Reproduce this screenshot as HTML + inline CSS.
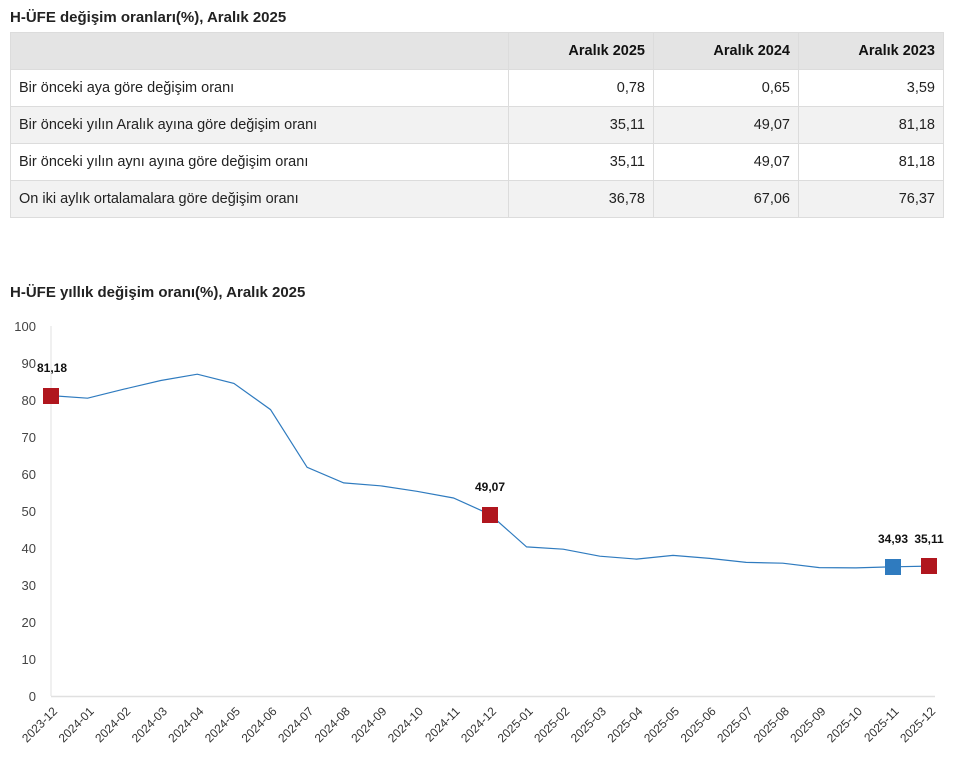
<!DOCTYPE html>
<html><head><meta charset="utf-8"><style>
body{margin:0;width:961px;height:766px;background:#fff;font-family:"Liberation Sans",sans-serif;color:#222;position:relative;overflow:hidden}
.t{position:absolute;left:10px;font-weight:bold;font-size:15px;color:#222}
table{position:absolute;left:10px;top:32px;border-collapse:collapse;font-size:14.5px;width:934px}
td,th{border:1px solid #dcdcdc;padding:0 8px;height:36px}
th{background:#e4e4e4;text-align:right;font-weight:bold;color:#111}
td{text-align:right;color:#222}
td:first-child{text-align:left}
tr.g td{background:#f2f2f2}
</style></head><body>
<div class="t" style="top:9px">H-ÜFE değişim oranları(%), Aralık 2025</div>
<table>
<tr><th style="width:481px"></th><th style="width:128px">Aralık 2025</th><th style="width:128px">Aralık 2024</th><th>Aralık 2023</th></tr>
<tr><td>Bir önceki aya göre değişim oranı</td><td>0,78</td><td>0,65</td><td>3,59</td></tr>
<tr class="g"><td>Bir önceki yılın Aralık ayına göre değişim oranı</td><td>35,11</td><td>49,07</td><td>81,18</td></tr>
<tr><td>Bir önceki yılın aynı ayına göre değişim oranı</td><td>35,11</td><td>49,07</td><td>81,18</td></tr>
<tr class="g"><td>On iki aylık ortalamalara göre değişim oranı</td><td>36,78</td><td>67,06</td><td>76,37</td></tr>
</table>
<div class="t" style="top:284px">H-ÜFE yıllık değişim oranı(%), Aralık 2025</div>
<svg width="961" height="766" style="position:absolute;left:0;top:0" font-family="Liberation Sans, sans-serif">
<g font-size="13" fill="#444" text-anchor="end">
<text x="36" y="331">100</text><text x="36" y="368">90</text><text x="36" y="405">80</text><text x="36" y="442">70</text><text x="36" y="479">60</text><text x="36" y="516">50</text><text x="36" y="553">40</text><text x="36" y="590">30</text><text x="36" y="627">20</text><text x="36" y="664">10</text><text x="36" y="701">0</text>
</g>
<line x1="51" y1="326" x2="51" y2="696" stroke="#e0e0e0"/>
<line x1="51" y1="696.5" x2="935" y2="696.5" stroke="#e0e0e0" stroke-width="1.5"/>
<polyline fill="none" stroke="#2f7bbf" stroke-width="1.2" points="51,395.6 87.6,398.2 124.2,389.1 160.8,380.5 197.3,374.2 233.9,383.4 270.5,409.6 307.1,467.3 343.7,482.9 380.3,485.8 416.9,491.3 453.5,498 490,514.4 526.6,546.9 563.2,549.2 599.8,556.2 636.4,559.1 673,555.4 709.6,558.4 746.2,562.4 782.8,563.2 819.3,567.6 855.9,567.9 892.5,566.8 929.1,566.1"/>
<rect x="43" y="388" width="16" height="16" fill="#b0161e"/>
<rect x="482" y="507" width="16" height="16" fill="#b0161e"/>
<rect x="885" y="559" width="16" height="16" fill="#2f7bbf"/>
<rect x="921" y="558" width="16" height="16" fill="#b0161e"/>
<g font-size="12" font-weight="bold" fill="#111" text-anchor="middle">
<text x="52" y="372">81,18</text><text x="490" y="491">49,07</text><text x="893" y="543">34,93</text><text x="929" y="543">35,11</text>
</g>
<g font-size="12" fill="#333" text-anchor="end" id="xl">
<text transform="translate(58,712) rotate(-45)">2023-12</text>
<text transform="translate(94.6,712) rotate(-45)">2024-01</text>
<text transform="translate(131.2,712) rotate(-45)">2024-02</text>
<text transform="translate(167.8,712) rotate(-45)">2024-03</text>
<text transform="translate(204.3,712) rotate(-45)">2024-04</text>
<text transform="translate(240.9,712) rotate(-45)">2024-05</text>
<text transform="translate(277.5,712) rotate(-45)">2024-06</text>
<text transform="translate(314.1,712) rotate(-45)">2024-07</text>
<text transform="translate(350.7,712) rotate(-45)">2024-08</text>
<text transform="translate(387.3,712) rotate(-45)">2024-09</text>
<text transform="translate(423.9,712) rotate(-45)">2024-10</text>
<text transform="translate(460.5,712) rotate(-45)">2024-11</text>
<text transform="translate(497,712) rotate(-45)">2024-12</text>
<text transform="translate(533.6,712) rotate(-45)">2025-01</text>
<text transform="translate(570.2,712) rotate(-45)">2025-02</text>
<text transform="translate(606.8,712) rotate(-45)">2025-03</text>
<text transform="translate(643.4,712) rotate(-45)">2025-04</text>
<text transform="translate(680,712) rotate(-45)">2025-05</text>
<text transform="translate(716.6,712) rotate(-45)">2025-06</text>
<text transform="translate(753.2,712) rotate(-45)">2025-07</text>
<text transform="translate(789.8,712) rotate(-45)">2025-08</text>
<text transform="translate(826.3,712) rotate(-45)">2025-09</text>
<text transform="translate(862.9,712) rotate(-45)">2025-10</text>
<text transform="translate(899.5,712) rotate(-45)">2025-11</text>
<text transform="translate(936.1,712) rotate(-45)">2025-12</text>
</g>
</svg>
</body></html>
